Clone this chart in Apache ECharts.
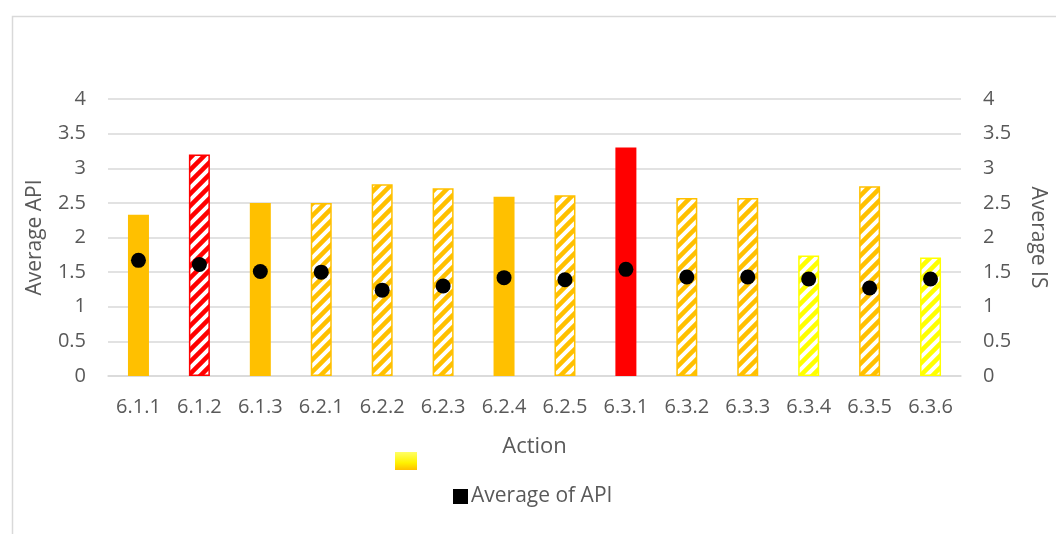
<!DOCTYPE html>
<html>
<head>
<meta charset="utf-8">
<script src="https://cdn.jsdelivr.net/npm/echarts@6/dist/echarts.min.js"></script>
<style>
html,body{margin:0;padding:0;background:#fff;}
#chart{width:1056px;height:534px;}
</style>
</head>
<body>
<div id="chart"></div>
<script>
const categories = ['6.1.1','6.1.2','6.1.3','6.2.1','6.2.2','6.2.3','6.2.4','6.2.5','6.3.1','6.3.2','6.3.3','6.3.4','6.3.5','6.3.6'];
const apiValues = [2.33,3.20,2.50,2.50,2.77,2.71,2.59,2.61,3.30,2.57,2.57,1.74,2.74,1.71];
const isValues = [1.67,1.61,1.51,1.50,1.24,1.30,1.42,1.39,1.54,1.43,1.43,1.40,1.27,1.40];
const barColorKeys = ['orange','red','orange','orange','orange','orange','orange','orange','red','orange','orange','yellow','orange','yellow'];
const barHatched = [false,true,false,true,true,true,false,true,false,true,true,true,true,true];
const yTicks = ['0','0.5','1','1.5','2','2.5','3','3.5','4'];

const palette = {orange:'#FFC000', red:'#FF0000', yellow:'#FFFF00'};

function makePattern(color){
  const s = 12;
  const c = document.createElement('canvas');
  c.width = s; c.height = s;
  const ctx = c.getContext('2d');
  ctx.fillStyle = '#ffffff';
  ctx.fillRect(0,0,s,s);
  ctx.strokeStyle = color;
  ctx.lineWidth = 4.5;
  ctx.beginPath();
  ctx.moveTo(-3, s+3); ctx.lineTo(s+3, -3);
  ctx.moveTo(-3, 3); ctx.lineTo(3, -3);
  ctx.moveTo(s-3, s+3); ctx.lineTo(s+3, s-3);
  ctx.stroke();
  return {image: c, repeat: 'repeat'};
}

const barData = apiValues.map((v,i)=>{
  const col = palette[barColorKeys[i]];
  return {
    value: v,
    itemStyle: barHatched[i]
      ? {color: makePattern(col), borderColor: col, borderWidth: 1.5}
      : {color: col, borderWidth: 0}
  };
});

const font = '"Open Sans", "Noto Sans", sans-serif';
const textColor = '#595959';

const chart = echarts.init(document.getElementById('chart'), null, {renderer:'canvas'});
chart.setOption({
  animation: false,
  backgroundColor: '#ffffff',
  textStyle: {fontFamily: font},
  graphic: [{
    type: 'rect', left: 10, top: 14, z: -10,
    shape: {width: 1100, height: 600},
    style: {fill: 'none', stroke: '#d9d9d9', lineWidth: 1.5}
  }],
  grid: {left: 108, right: 94, top: 99, bottom: 158},
  legend: [{
    left: 395, top: 451, itemWidth: 22, itemHeight: 18, padding: 0,
    data: [{name: ' ', icon: 'rect'}],
    textStyle: {fontSize: 20, color: textColor, fontFamily: font},
    selectedMode: false
  },{
    left: 453, top: 486, itemWidth: 15, itemHeight: 15, itemGap: 4, padding: 0,
    data: [{name: 'Average of API', icon: 'rect'}],
    textStyle: {fontSize: 21, color: textColor, fontFamily: font, padding: [0,0,0,-2]},
    selectedMode: false
  }],
  xAxis: {
    type: 'category',
    data: categories,
    name: 'Action',
    nameLocation: 'middle',
    nameGap: 60,
    nameTextStyle: {fontSize: 22, color: textColor, fontFamily: font},
    axisLine: {lineStyle: {color: '#d9d9d9', width: 1.5}},
    axisTick: {show: false},
    axisLabel: {fontSize: 20, color: textColor, margin: 21, fontFamily: font}
  },
  yAxis: [{
    type: 'value', min: 0, max: 4, interval: 0.5,
    name: 'Average API',
    nameLocation: 'middle', nameRotate: 90, nameGap: 62,
    nameTextStyle: {fontSize: 21, color: textColor, fontFamily: font},
    axisLine: {show: false}, axisTick: {show: false},
    axisLabel: {fontSize: 20, color: textColor, margin: 22, fontFamily: font,
      formatter: (v)=> yTicks[Math.round(v*2)]},
    splitLine: {lineStyle: {color: '#d9d9d9', width: 1.5}}
  },{
    type: 'value', min: 0, max: 4, interval: 0.5,
    name: 'Average IS',
    nameLocation: 'middle', nameRotate: -90, nameGap: 66,
    nameTextStyle: {fontSize: 21, color: textColor, fontFamily: font},
    axisLine: {show: false}, axisTick: {show: false},
    axisLabel: {fontSize: 20, color: textColor, margin: 22, fontFamily: font,
      formatter: (v)=> yTicks[Math.round(v*2)]},
    splitLine: {show: false}
  }],
  series: [{
    name: ' ',
    type: 'bar',
    yAxisIndex: 0,
    barWidth: 21,
    itemStyle: {
      color: new echarts.graphic.LinearGradient(0,0,0,1,[
        {offset:0, color:'#FFFF66'},{offset:0.6,color:'#FFF200'},{offset:1,color:'#FFC000'}])
    },
    data: barData
  },{
    name: 'Average of API',
    type: 'scatter',
    yAxisIndex: 1,
    symbol: 'circle',
    symbolSize: 15,
    itemStyle: {color: '#000000', opacity: 1},
    z: 5,
    data: isValues
  }]
});
</script>
</body>
</html>
